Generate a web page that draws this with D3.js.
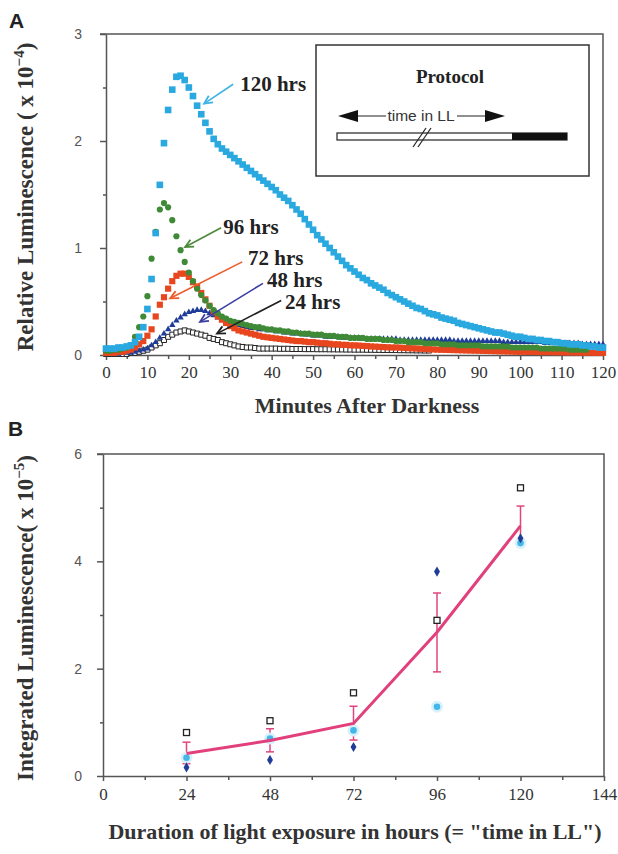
<!DOCTYPE html>
<html>
<head>
<meta charset="utf-8">
<script src="https://cdn.jsdelivr.net/npm/d3@7"></script>
<style>
body { margin: 0; background: #fff; }
</style>
</head>
<body>
<script>
// Panel A: relative luminescence (x 1e-4), one reading per minute after darkness
let lum120 = [0.06,0.06,0.06,0.07,0.07,0.08,0.09,0.12,0.17,0.26,
	0.43,0.71,1.14,1.59,1.98,2.29,2.48,2.60,2.61,2.57,
	2.50,2.42,2.33,2.25,2.17,2.09,2.02,1.97,1.93,1.90,
	1.87,1.84,1.81,1.78,1.75,1.72,1.69,1.66,1.63,1.60,
	1.57,1.54,1.50,1.47,1.44,1.40,1.36,1.32,1.27,1.22,
	1.17,1.12,1.08,1.04,1.00,0.96,0.92,0.88,0.84,0.81,
	0.78,0.75,0.72,0.70,0.67,0.65,0.63,0.61,0.58,0.56,
	0.54,0.52,0.50,0.48,0.46,0.44,0.43,0.41,0.39,0.38,
	0.37,0.35,0.34,0.33,0.32,0.30,0.29,0.28,0.27,0.26,
	0.25,0.24,0.23,0.22,0.21,0.21,0.20,0.19,0.18,0.17,
	0.17,0.16,0.15,0.15,0.14,0.14,0.13,0.13,0.12,0.12,
	0.11,0.11,0.10,0.10,0.10,0.09,0.09,0.08,0.08,0.07,0.07];

let lum96 = [0.04,0.04,0.05,0.05,0.06,0.07,0.09,0.17,0.26,0.36,
	0.55,0.90,1.15,1.36,1.42,1.38,1.26,1.11,0.98,0.87,
	0.77,0.69,0.62,0.56,0.51,0.46,0.42,0.39,0.36,0.34,
	0.32,0.31,0.30,0.29,0.28,0.27,0.26,0.26,0.25,0.24,
	0.24,0.23,0.23,0.22,0.22,0.21,0.21,0.20,0.20,0.20,
	0.19,0.19,0.19,0.18,0.18,0.18,0.17,0.17,0.17,0.16,
	0.16,0.16,0.16,0.15,0.15,0.15,0.15,0.14,0.14,0.14,
	0.13,0.13,0.13,0.12,0.12,0.12,0.12,0.11,0.11,0.11,
	0.11,0.10,0.10,0.10,0.10,0.09,0.09,0.09,0.09,0.09,
	0.09,0.08,0.08,0.08,0.08,0.08,0.08,0.08,0.07,0.07,
	0.07,0.07,0.07,0.07,0.07,0.06,0.06,0.06,0.06,0.06,
	0.06,0.06,0.05,0.05,0.05,0.05,0.05];

let lum72 = [0.02,0.02,0.02,0.03,0.03,0.04,0.05,0.07,0.10,0.13,
	0.18,0.24,0.36,0.47,0.54,0.62,0.69,0.74,0.76,0.76,
	0.73,0.68,0.64,0.58,0.52,0.46,0.40,0.36,0.33,0.30,
	0.27,0.25,0.23,0.22,0.21,0.20,0.19,0.18,0.17,0.165,
	0.16,0.155,0.15,0.145,0.14,0.135,0.13,0.13,0.125,0.12,
	0.12,0.115,0.11,0.11,0.105,0.10,0.10,0.095,0.095,0.09,
	0.09,0.088,0.085,0.083,0.08,0.078,0.076,0.074,0.072,0.07,
	0.07,0.068,0.066,0.064,0.062,0.06,0.058,0.056,0.054,0.052,
	0.05,0.049,0.048,0.047,0.046,0.045,0.044,0.043,0.042,0.041,
	0.04,0.039,0.038,0.037,0.036,0.035,0.034,0.033,0.032,0.031,
	0.03,0.03,0.029,0.029,0.028,0.028,0.027,0.027,0.026,0.026,
	0.025,0.025,0.024,0.024,0.023,0.023,0.022,0.022,0.021,0.021,0.02];

let lum48 = [0.01,0.01,0.01,0.01,0.02,0.02,0.02,0.03,0.04,0.05,
	0.06,0.09,0.12,0.16,0.20,0.24,0.28,0.32,0.35,0.38,
	0.40,0.41,0.42,0.42,0.41,0.39,0.37,0.35,0.33,0.31,
	0.30,0.29,0.28,0.27,0.26,0.25,0.25,0.24,0.24,0.23,
	0.23,0.22,0.22,0.21,0.21,0.20,0.20,0.20,0.19,0.19,
	0.18,0.18,0.18,0.17,0.17,0.17,0.17,0.16,0.16,0.16,
	0.16,0.16,0.15,0.15,0.15,0.15,0.15,0.15,0.15,0.15,
	0.15,0.14,0.14,0.14,0.14,0.14,0.14,0.14,0.14,0.14,
	0.14,0.14,0.14,0.14,0.13,0.13,0.13,0.13,0.13,0.13,
	0.13,0.13,0.13,0.13,0.13,0.13,0.12,0.12,0.12,0.12,
	0.12,0.12,0.12,0.12,0.12,0.12,0.11,0.11,0.11,0.11,
	0.11,0.11,0.11,0.11,0.11,0.10,0.10,0.10,0.10,0.10,0.10];

let lum24 = [0.01,0.01,0.01,0.01,0.01,0.01,0.02,0.02,0.03,0.04,
	0.05,0.07,0.09,0.11,0.14,0.17,0.19,0.21,0.22,0.23,
	0.22,0.21,0.20,0.19,0.18,0.16,0.15,0.14,0.12,0.11,
	0.10,0.09,0.08,0.075,0.07,0.07,0.065,0.06,0.06,0.06,
	0.06,0.06,0.058,0.058,0.058,0.056,0.056,0.056,0.055,0.055,
	0.055,0.054,0.054,0.054,0.053,0.053,0.052,0.052,0.051,0.051,
	0.05,0.05,0.05,0.049,0.049,0.048,0.048,0.047,0.047,0.046,
	0.046,0.045,0.045,0.044,0.044,0.043,0.043,0.042,0.042];

// curve labels: text, position (minutes, value), arrow start and arrow tip
let curveLabels = ['120 hrs', '96 hrs', '72 hrs', '48 hrs', '24 hrs'];
let labelAt = [[32.4, 2.47], [28.3, 1.13], [34.3, 0.84], [38.9, 0.64], [43.2, 0.43]];
let arrowFrom = [[30.7, 2.53], [27.8, 1.19], [32.9, 0.87], [37.9, 0.67], [42.3, 0.51]];
let arrowTo = [[23.7, 2.35], [19.1, 1.01], [15.5, 0.53], [22.7, 0.31], [26.8, 0.20]];

// Panel B: integrated luminescence (x 1e-5) per duration of light exposure
let hours = [24, 48, 72, 96, 120];
let meanLum = [0.42, 0.66, 0.98, 2.68, 4.66];
let errLow = [0.23, 0.45, 0.67, 1.94, 4.30];
let errHigh = [0.63, 0.88, 1.30, 3.41, 5.03];
let squareLum = [0.81, 1.03, 1.55, 2.90, 5.37];
let diamondLum = [0.16, 0.30, 0.54, 3.81, 4.43];
let circleLum = [0.34, 0.70, 0.85, 1.29, 4.34];

let serif = 'Liberation Serif, Times New Roman, serif';
let sans = 'Liberation Sans, Arial, sans-serif';

let svg = d3.select('body').append('svg')
	.attr('width', 618)
	.attr('height', 854);

///Panel A///
let xA = d3.scaleLinear().domain([0, 120]).range([106, 603]);
let yA = d3.scaleLinear().domain([0, 3]).range([355, 34]);

let gA = svg.append('g');

//frame top and right
gA.append('path')
	.attr('d', 'M' + (xA(0) - 6) + ',' + yA(3) + 'H' + xA(120) + 'V' + yA(0))
	.attr('fill', 'none')
	.attr('stroke', '#555')
	.attr('stroke-width', 1.5);

//minor ticks
gA.append('g')
	.attr('transform', 'translate(0,' + yA(0) + ')')
	.call(d3.axisBottom(xA).tickValues(d3.range(5, 120, 10)).tickSize(4).tickFormat(''))
	.call(g => g.select('.domain').remove());
gA.append('g')
	.attr('transform', 'translate(' + xA(0) + ',0)')
	.call(d3.axisLeft(yA).tickValues([0.5, 1.5, 2.5]).tickSize(3).tickFormat(''))
	.call(g => g.select('.domain').remove());

let xAxisA = gA.append('g')
	.attr('transform', 'translate(0,' + yA(0) + ')')
	.call(d3.axisBottom(xA).tickValues(d3.range(0, 121, 10)).tickSize(5).tickSizeOuter(0).tickPadding(6));
xAxisA.selectAll('text').attr('font-family', serif).attr('font-size', '17px').attr('fill', '#333');

let yAxisA = gA.append('g')
	.attr('transform', 'translate(' + xA(0) + ',0)')
	.call(d3.axisLeft(yA).tickValues([0, 1, 2, 3]).tickFormat(d3.format('d')).tickSize(6).tickSizeOuter(0).tickPadding(18));
yAxisA.selectAll('text').attr('font-family', sans).attr('font-size', '14px').attr('fill', '#555');

gA.selectAll('.domain, .tick line').attr('stroke', '#555').attr('stroke-width', 1.5);

//series markers
function drawSeries(values, symbolType, size, fill, stroke) {
	gA.append('g')
		.selectAll('path')
		.data(values)
		.enter()
		.append('path')
		.attr('d', d3.symbol().type(symbolType).size(size))
		.attr('transform', function(d, i) {
			return 'translate(' + xA(i) + ',' + yA(d) + ')';
		})
		.attr('fill', fill)
		.attr('stroke', stroke)
		.attr('stroke-width', stroke == 'none' ? 0 : 1);
}

drawSeries(lum24, d3.symbolSquare, 25, '#fff', '#222');
drawSeries(lum48, d3.symbolTriangle, 18, '#1f3c98', 'none');
drawSeries(lum72, d3.symbolSquare, 38, '#e8461e', 'none');
drawSeries(lum96, d3.symbolCircle, 30, '#3f8a37', 'none');
drawSeries(lum120, d3.symbolSquare, 44, '#2aa9e0', 'none');

//labels and arrows
let labelColors = ['#3fb3e6', '#4d8a3a', '#ee5a2a', '#3a3fa0', '#222'];

function arrow(g, x1, y1, x2, y2, color) {
	let ang = Math.atan2(y2 - y1, x2 - x1);
	let len = 9;
	g.append('line')
		.attr('x1', x1).attr('y1', y1).attr('x2', x2).attr('y2', y2)
		.attr('stroke', color).attr('stroke-width', 1.6);
	g.append('path')
		.attr('d', 'M' + (x2 - len * Math.cos(ang - 0.45)) + ',' + (y2 - len * Math.sin(ang - 0.45)) +
			'L' + x2 + ',' + y2 +
			'L' + (x2 - len * Math.cos(ang + 0.45)) + ',' + (y2 - len * Math.sin(ang + 0.45)))
		.attr('fill', 'none')
		.attr('stroke', color)
		.attr('stroke-width', 1.8);
}

curveLabels.forEach(function(t, i) {
	arrow(gA, xA(arrowFrom[i][0]), yA(arrowFrom[i][1]), xA(arrowTo[i][0]), yA(arrowTo[i][1]), labelColors[i]);
	gA.append('text')
		.attr('x', xA(labelAt[i][0]))
		.attr('y', yA(labelAt[i][1]))
		.attr('font-family', serif)
		.attr('font-weight', 'bold')
		.attr('font-size', '21px')
		.attr('fill', '#222')
		.text(t);
});

//protocol inset
let inset = gA.append('g');
inset.append('rect')
	.attr('x', 316).attr('y', 45).attr('width', 273).attr('height', 131)
	.attr('fill', '#fff').attr('stroke', '#333').attr('stroke-width', 1.5);
inset.append('text')
	.attr('x', 450).attr('y', 83)
	.attr('text-anchor', 'middle')
	.attr('font-family', serif).attr('font-weight', 'bold').attr('font-size', '19px')
	.attr('fill', '#222')
	.text('Protocol');
inset.append('line').attr('x1', 352).attr('x2', 386).attr('y1', 116).attr('y2', 116).attr('stroke', '#222').attr('stroke-width', 1.2);
inset.append('line').attr('x1', 457).attr('x2', 490).attr('y1', 116).attr('y2', 116).attr('stroke', '#222').attr('stroke-width', 1.2);
inset.append('path').attr('d', 'M338,116L358,110L358,122Z').attr('fill', '#111');
inset.append('path').attr('d', 'M505,116L485,110L485,122Z').attr('fill', '#111');
inset.append('text')
	.attr('x', 421).attr('y', 121)
	.attr('text-anchor', 'middle')
	.attr('font-family', sans).attr('font-size', '15.5px')
	.attr('fill', '#333')
	.text('time in LL');
inset.append('rect')
	.attr('x', 337).attr('y', 133).attr('width', 230).attr('height', 7)
	.attr('fill', '#fff').attr('stroke', '#222').attr('stroke-width', 1.2);
inset.append('rect')
	.attr('x', 512).attr('y', 133).attr('width', 55).attr('height', 7)
	.attr('fill', '#111');
inset.append('line').attr('x1', 413).attr('y1', 147).attr('x2', 426).attr('y2', 128).attr('stroke', '#222').attr('stroke-width', 1.2);
inset.append('line').attr('x1', 418).attr('y1', 147).attr('x2', 431).attr('y2', 128).attr('stroke', '#222').attr('stroke-width', 1.2);

//axis titles
let yTitleA = gA.append('text')
	.attr('transform', 'translate(33,197) rotate(-90)')
	.attr('text-anchor', 'middle')
	.attr('font-family', serif).attr('font-weight', 'bold').attr('font-size', '23px')
	.attr('fill', '#333');
yTitleA.append('tspan').text('Relative Luminescence ( x 10');
yTitleA.append('tspan').attr('dy', -9).attr('font-size', '15px').text('\u22124');
yTitleA.append('tspan').attr('dy', 9).text(')');

gA.append('text')
	.attr('x', 367).attr('y', 413)
	.attr('text-anchor', 'middle')
	.attr('font-family', serif).attr('font-weight', 'bold').attr('font-size', '22px')
	.attr('fill', '#333')
	.text('Minutes After Darkness');

svg.append('text')
	.attr('x', 9).attr('y', 28)
	.attr('font-family', sans).attr('font-weight', 'bold').attr('font-size', '21px')
	.attr('fill', '#222')
	.text('A');

///Panel B///
let xB = d3.scaleLinear().domain([0, 144]).range([103, 604]);
let yB = d3.scaleLinear().domain([0, 6]).range([776, 454]);

let gB = svg.append('g');

gB.append('path')
	.attr('d', 'M' + (xB(0) - 6) + ',' + yB(6) + 'H' + xB(144) + 'V' + yB(0))
	.attr('fill', 'none')
	.attr('stroke', '#555')
	.attr('stroke-width', 1.5);

gB.append('g')
	.attr('transform', 'translate(0,' + yB(0) + ')')
	.call(d3.axisBottom(xB).tickValues(d3.range(12, 144, 24)).tickSize(4).tickFormat(''))
	.call(g => g.select('.domain').remove());
gB.append('g')
	.attr('transform', 'translate(' + xB(0) + ',0)')
	.call(d3.axisLeft(yB).tickValues([1, 3, 5]).tickSize(3).tickFormat(''))
	.call(g => g.select('.domain').remove());

let xAxisB = gB.append('g')
	.attr('transform', 'translate(0,' + yB(0) + ')')
	.call(d3.axisBottom(xB).tickValues(d3.range(0, 145, 24)).tickSize(5).tickSizeOuter(0).tickPadding(7));
xAxisB.selectAll('text').attr('font-family', serif).attr('font-size', '17px').attr('fill', '#333');

let yAxisB = gB.append('g')
	.attr('transform', 'translate(' + xB(0) + ',0)')
	.call(d3.axisLeft(yB).tickValues([0, 2, 4, 6]).tickFormat(d3.format('d')).tickSize(6).tickSizeOuter(0).tickPadding(15));
yAxisB.selectAll('text').attr('font-family', sans).attr('font-size', '14px').attr('fill', '#555');

gB.selectAll('.domain, .tick line').attr('stroke', '#555').attr('stroke-width', 1.5);

//error bars
hours.forEach(function(h, i) {
	let eb = gB.append('g').attr('stroke', '#e0457f').attr('stroke-width', 1.5);
	eb.append('line').attr('x1', xB(h)).attr('x2', xB(h)).attr('y1', yB(errLow[i])).attr('y2', yB(errHigh[i]));
	eb.append('line').attr('x1', xB(h) - 4).attr('x2', xB(h) + 4).attr('y1', yB(errLow[i])).attr('y2', yB(errLow[i]));
	eb.append('line').attr('x1', xB(h) - 4).attr('x2', xB(h) + 4).attr('y1', yB(errHigh[i])).attr('y2', yB(errHigh[i]));
});

//individual measurements
gB.append('g').selectAll('circle.halo')
	.data(circleLum).enter().append('circle')
	.attr('cx', (d, i) => xB(hours[i])).attr('cy', d => yB(d))
	.attr('r', 6).attr('fill', '#d9f1fb');
gB.append('g').selectAll('circle.dot')
	.data(circleLum).enter().append('circle')
	.attr('cx', (d, i) => xB(hours[i])).attr('cy', d => yB(d))
	.attr('r', 3.3).attr('fill', '#45b6e8');

gB.append('g').selectAll('path')
	.data(diamondLum).enter().append('path')
	.attr('d', d3.symbol().type(d3.symbolDiamond).size(30))
	.attr('transform', (d, i) => 'translate(' + xB(hours[i]) + ',' + yB(d) + ')')
	.attr('fill', '#1f3c98');

gB.append('g').selectAll('rect')
	.data(squareLum).enter().append('rect')
	.attr('x', (d, i) => xB(hours[i]) - 3).attr('y', d => yB(d) - 3)
	.attr('width', 6).attr('height', 6)
	.attr('fill', '#fff').attr('stroke', '#222').attr('stroke-width', 1.3);

//mean line
gB.append('path')
	.datum(meanLum)
	.attr('d', d3.line().x((d, i) => xB(hours[i])).y(d => yB(d)))
	.attr('fill', 'none')
	.attr('stroke', '#e2407c')
	.attr('stroke-width', 3);

let yTitleB = gB.append('text')
	.attr('transform', 'translate(33,618) rotate(-90)')
	.attr('text-anchor', 'middle')
	.attr('font-family', serif).attr('font-weight', 'bold').attr('font-size', '23px')
	.attr('fill', '#333');
yTitleB.append('tspan').text('Integrated Luminescence( x 10');
yTitleB.append('tspan').attr('dy', -9).attr('font-size', '15px').text('\u22125');
yTitleB.append('tspan').attr('dy', 9).text(')');

gB.append('text')
	.attr('x', 355).attr('y', 839)
	.attr('text-anchor', 'middle')
	.attr('font-family', serif).attr('font-weight', 'bold').attr('font-size', '22px')
	.attr('fill', '#333')
	.text('Duration of light exposure in hours (= "time in LL")');

svg.append('text')
	.attr('x', 8).attr('y', 436)
	.attr('font-family', sans).attr('font-weight', 'bold').attr('font-size', '21px')
	.attr('fill', '#222')
	.text('B');
</script>
</body>
</html>
